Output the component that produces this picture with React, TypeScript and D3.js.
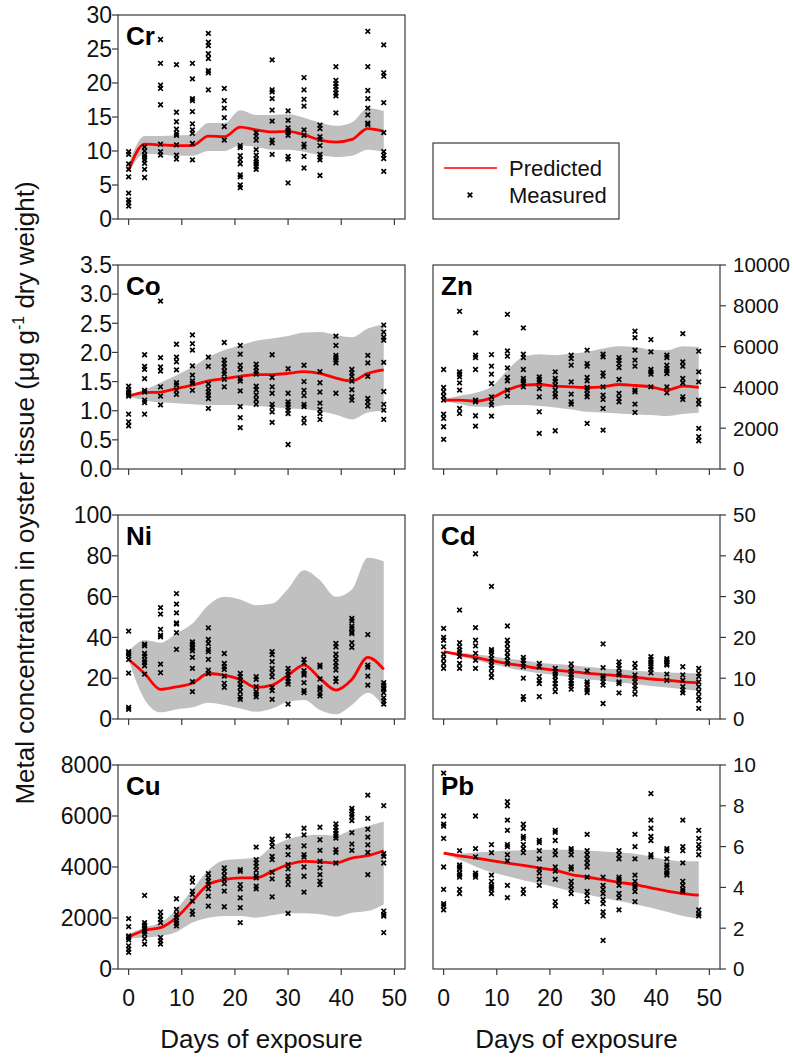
import React from 'react';
import * as d3 from 'd3';

const days = [0, 3, 6, 9, 12, 15, 18, 21, 24, 27, 30, 33, 36, 39, 42, 45, 48];
const xTicks = [0, 10, 20, 30, 40, 50];

// Cr
const crObs = [
  [9.9, 9.5, 8.1, 7.3, 6.2, 3.8, 2.8, 2.4, 1.9],
  [10.6, 10.0, 9.4, 9.1, 8.7, 8.2, 7.3, 6.1],
  [26.4, 22.9, 19.7, 19.2, 16.8, 11.0, 9.9, 9.4],
  [22.7, 15.7, 14.3, 13.2, 12.6, 12.3, 10.9, 9.4, 8.8],
  [22.9, 20.6, 17.7, 17.4, 15.8, 14.0, 13.1, 12.6, 11.1, 8.7],
  [27.3, 26.0, 25.5, 24.3, 23.6, 21.8, 21.5, 19.0],
  [19.2, 17.4, 16.3, 14.9, 13.6, 11.6],
  [10.8, 10.5, 9.3, 8.7, 8.1, 6.5, 6.2, 5.0, 4.6],
  [12.7, 12.2, 11.6, 10.2, 9.4, 8.8, 8.4, 8.1, 7.7, 7.3],
  [23.4, 19.0, 18.7, 17.7, 16.0, 14.4, 11.6, 11.2, 9.5],
  [15.9, 14.5, 13.4, 13.0, 12.7, 12.3, 9.2, 8.8, 5.3],
  [20.8, 19.0, 17.6, 16.6, 13.1, 12.3, 11.0, 10.6, 9.2, 7.5],
  [13.8, 13.3, 12.1, 11.7, 10.8, 9.5, 9.1, 8.7, 6.4],
  [22.4, 20.4, 19.9, 19.5, 19.0, 18.5, 18.1, 15.6],
  [],
  [27.6, 22.4, 18.9, 17.7, 16.3, 15.3, 14.1, 13.9],
  [25.6, 21.5, 21.0, 17.1, 12.7, 9.9, 9.4, 8.9, 7.0],
];
const crPred = [7.2, 11.0, 10.9, 10.8, 10.8, 12.2, 12.1, 13.5, 13.1, 12.8, 12.9, 12.4, 11.6, 11.3, 11.7, 13.3, 12.9];
const crHigh = [8.0, 12.2, 12.2, 12.3, 12.4, 14.1, 14.1, 16.0, 15.3, 15.3, 15.4, 14.9, 14.2, 13.7, 14.2, 16.3, 15.9];
const crLow = [6.8, 9.6, 9.5, 9.3, 9.3, 10.0, 10.0, 10.8, 10.6, 10.2, 10.2, 9.9, 9.4, 9.1, 9.3, 10.2, 9.9];
const crTicks = [0, 5, 10, 15, 20, 25, 30];

// Co
const coObs = [
  [1.42, 1.36, 1.32, 1.28, 1.25, 0.94, 0.81, 0.74],
  [1.96, 1.76, 1.71, 1.55, 1.35, 1.32, 1.18, 1.14, 0.94],
  [2.88, 1.91, 1.75, 1.68, 1.41, 1.25, 1.1],
  [2.14, 1.92, 1.84, 1.7, 1.48, 1.44, 1.35, 1.28],
  [2.3, 2.15, 2.04, 1.77, 1.61, 1.51, 1.47, 1.35],
  [1.92, 1.76, 1.46, 1.38, 1.32, 1.27, 1.21, 1.04],
  [2.17, 1.87, 1.81, 1.75, 1.68, 1.63, 1.54, 1.41],
  [2.12, 1.97, 1.78, 1.71, 1.55, 1.51, 1.34, 1.07, 0.88, 0.71],
  [1.8, 1.74, 1.68, 1.63, 1.42, 1.36, 1.27, 1.19, 1.11],
  [1.96, 1.57, 1.41, 1.3, 1.11, 1.06, 0.98, 0.8],
  [1.72, 1.3, 1.15, 1.11, 1.06, 1.01, 0.95, 0.42],
  [1.78, 1.5, 1.35, 1.26, 1.11, 1.07, 0.87, 0.79],
  [1.67, 1.48, 1.32, 1.13, 1.02, 0.95, 0.85],
  [2.28, 2.12, 1.95, 1.91, 1.87, 1.82, 1.3],
  [1.71, 1.65, 1.59, 1.51, 1.36, 1.24, 1.18],
  [1.95, 1.82, 1.59, 1.21, 1.15, 1.08],
  [2.47, 2.35, 2.26, 2.21, 1.83, 1.33, 1.11, 1.01, 0.85],
];
const coPred = [1.25, 1.31, 1.32, 1.38, 1.44, 1.51, 1.55, 1.59, 1.62, 1.62, 1.64, 1.67, 1.64, 1.56, 1.51, 1.64, 1.7];
const coHigh = [1.28, 1.36, 1.48, 1.61, 1.75, 1.92, 2.04, 2.12, 2.2, 2.24, 2.28, 2.34, 2.35, 2.3, 2.26, 2.41, 2.48];
const coLow = [1.24, 1.18, 1.14, 1.13, 1.11, 1.1, 1.1, 1.1, 1.08, 1.06, 1.04, 1.03, 0.99, 0.93, 0.85, 0.97, 1.0];
const coTicks = [0, 0.5, 1, 1.5, 2, 2.5, 3, 3.5];

// Zn
const znObs = [
  [4877, 3996, 3784, 3572, 3376, 2691, 2479, 2071, 1452],
  [7731, 4763, 4648, 4518, 4224, 3866, 2969, 2724],
  [6671, 5578, 5464, 4877, 3376, 3295, 2610, 2104],
  [5610, 5040, 4648, 4192, 3540, 3295, 3132, 2593],
  [7584, 5790, 5529, 4958, 4485, 4322, 3866, 3572],
  [6915, 5627, 5464, 4877, 4436, 4322, 4192, 4028],
  [4518, 4387, 4273, 3947, 3540, 2805, 1745],
  [4763, 4436, 4306, 4110, 3866, 3670, 3540, 1876],
  [5578, 5415, 5089, 4273, 3670, 3295, 3181],
  [5823, 5170, 5040, 4485, 4322, 3996, 3866, 3670, 3540, 2234],
  [5627, 5497, 4714, 4551, 4028, 3621, 3409, 2969, 1908],
  [5464, 5333, 5170, 4974, 4387, 3703, 3458, 3295],
  [6752, 6442, 5823, 5333, 5040, 3866, 3784, 3181, 2773],
  [6345, 5741, 4877, 4763, 4648, 4028],
  [5578, 5464, 5089, 4926, 4812, 4681, 4028, 3735],
  [6638, 5252, 5040, 4436, 4224, 3540, 3409],
  [5774, 4763, 4273, 3376, 3181, 1990, 1582, 1386],
];
const znPred = [3376, 3376, 3327, 3490, 3866, 4110, 4143, 4061, 4028, 3996, 4028, 4143, 4094, 4028, 3866, 4061, 3996];
const znHigh = [3409, 3588, 3735, 4028, 4844, 5497, 5627, 5578, 5660, 5741, 5904, 6019, 5986, 5855, 5823, 6019, 5986];
const znLow = [3344, 3181, 3050, 3050, 3132, 3132, 3083, 3017, 2919, 2805, 2773, 2724, 2675, 2642, 2593, 2691, 2756];
const znTicks = [0, 2000, 4000, 6000, 8000, 10000];

// Ni
const niObs = [
  [43.1, 33.0, 32.1, 31.0, 29.2, 22.5, 5.7, 4.7],
  [36.7, 35.9, 32.1, 30.8, 28.9, 27.7, 26.1, 22.0],
  [54.6, 51.4, 43.9, 41.1, 40.3, 26.9, 22.7],
  [61.5, 56.3, 52.0, 47.1, 46.5, 42.3, 34.1],
  [37.8, 36.7, 35.4, 34.6, 33.4, 30.2, 24.8, 18.3, 13.4],
  [44.7, 39.0, 37.0, 34.1, 33.0, 29.2, 24.0, 22.3],
  [32.1, 27.2, 25.6, 24.3, 21.0, 17.5, 15.5],
  [22.3, 20.7, 19.1, 17.1, 15.5, 13.4, 10.9, 9.6],
  [20.7, 19.4, 15.8, 13.4, 12.2, 10.9],
  [33.0, 31.6, 28.1, 24.8, 22.7, 20.7, 15.5, 13.9, 9.6],
  [24.8, 23.2, 21.5, 19.9, 18.3, 17.1, 7.3],
  [29.2, 27.6, 23.7, 22.3, 21.5, 17.8, 13.9, 12.9],
  [26.4, 25.6, 19.6, 15.5, 14.5, 12.6, 11.3],
  [37.0, 35.4, 31.8, 29.7, 27.7, 25.9, 24.0, 19.9, 18.3],
  [49.3, 48.1, 45.5, 44.4, 42.7, 41.9, 37.4, 35.1],
  [41.4, 26.4, 25.3, 21.0, 16.6],
  [17.8, 16.6, 15.3, 14.5, 12.9, 10.4, 8.8, 7.3],
];
const niPred = [29.2, 22.3, 14.5, 15.8, 17.5, 22.3, 21.5, 19.4, 15.5, 16.6, 21.5, 26.4, 19.9, 14.2, 19.4, 30.2, 24.3];
const niHigh = [33.0, 38.7, 37.4, 41.9, 46.8, 55.8, 59.9, 58.6, 55.8, 56.6, 63.9, 72.9, 68.0, 59.9, 63.5, 79.0, 77.3];
const niLow = [28.9, 9.6, 3.3, 4.7, 5.7, 8.0, 6.9, 5.2, 3.6, 5.2, 8.5, 9.3, 4.4, 2.3, 6.9, 12.9, 6.0];
const niTicks = [0, 20, 40, 60, 80, 100];

// Cd
const cdObs = [
  [22.2, 20.0, 19.3, 17.7, 15.9, 14.8, 13.6, 12.4],
  [26.7, 18.7, 17.7, 16.9, 16.2, 15.3, 13.6, 12.4],
  [40.5, 22.4, 19.3, 17.9, 16.1, 14.4, 12.4],
  [32.5, 17.0, 16.5, 15.7, 14.8, 14.0, 13.2, 12.4, 11.2, 10.2],
  [22.8, 19.3, 18.4, 17.3, 16.2, 15.3, 14.3, 13.5],
  [15.1, 14.4, 13.6, 12.8, 10.0, 5.5, 4.8],
  [13.6, 12.8, 10.4, 9.4, 8.7, 5.5],
  [12.4, 11.6, 11.0, 10.4, 9.5, 8.7, 7.9, 6.7],
  [13.5, 12.4, 11.6, 10.8, 10.2, 9.4, 8.7, 8.1, 7.3],
  [11.8, 9.1, 8.6, 7.7, 7.1, 6.5],
  [18.4, 12.6, 10.5, 10.0, 9.1, 8.3, 3.8],
  [14.0, 13.2, 12.4, 11.3, 10.8, 9.1, 8.7, 6.4],
  [13.6, 12.6, 10.8, 10.0, 9.1, 8.1, 7.3, 6.1],
  [15.3, 14.6, 14.0, 13.5, 12.8, 12.2, 11.3],
  [14.8, 14.4, 14.0, 13.6, 13.2, 11.0, 9.5],
  [12.8, 10.8, 9.5, 7.9, 7.1, 6.4],
  [12.4, 11.2, 10.4, 9.1, 7.9, 6.7, 5.5, 4.6, 2.6],
];
const cdPred = [16.5, 15.8, 15.1, 14.3, 13.6, 13.0, 12.4, 12.0, 11.6, 11.2, 10.9, 10.6, 10.2, 9.8, 9.5, 9.1, 8.9];
const cdHigh = [16.5, 16.2, 15.9, 15.4, 14.8, 14.4, 13.8, 13.5, 13.2, 12.8, 12.4, 12.2, 11.8, 11.6, 11.4, 11.3, 11.2];
const cdLow = [16.4, 15.4, 14.4, 13.5, 12.6, 11.8, 11.2, 10.8, 10.2, 9.7, 9.4, 8.9, 8.6, 8.1, 7.7, 7.3, 6.9];
const cdTicks = [0, 10, 20, 30, 40, 50];

// Cu
const cuObs = [
  [1974, 1663, 1299, 1234, 1143, 909, 779, 650],
  [2884, 1819, 1715, 1624, 1559, 1455, 1364, 1195, 974],
  [2234, 2078, 1949, 1819, 1234, 1104, 974],
  [2754, 2338, 2143, 2013, 1884, 1793, 1689],
  [3572, 3403, 3053, 2923, 2663, 2273, 2143],
  [3741, 3572, 3442, 3312, 3143, 2858, 2468],
  [3962, 3832, 3663, 3507, 3351, 3053, 2442],
  [3897, 3832, 3312, 3143, 2793, 2403, 1819],
  [4780, 4287, 4157, 4027, 3871, 3663, 3572, 3247, 3143],
  [5092, 4962, 4806, 4417, 4287, 3793, 3533, 2832],
  [5222, 4780, 4482, 4092, 3923, 3637, 3507, 3312, 2182],
  [5520, 5261, 4832, 4482, 4391, 4001, 3637, 3014],
  [5559, 5066, 4650, 4222, 3962, 3702, 3442, 3312],
  [5689, 5559, 5430, 5326, 5222, 5131, 4676, 4572, 4157],
  [6300, 6200, 6070, 5970, 5820, 5350, 4900, 4650],
  [6820, 5910, 5482, 5170, 4871, 4572, 3702],
  [6404, 4520, 4417, 4157, 2273, 2143, 2078, 1429],
];
const cuPred = [1260, 1520, 1620, 2013, 2663, 3312, 3507, 3572, 3572, 3832, 4092, 4222, 4196, 4157, 4352, 4443, 4637];
const cuHigh = [1364, 1624, 1819, 2338, 3118, 3871, 4261, 4313, 4352, 4806, 5092, 5222, 5261, 5222, 5456, 5612, 5780];
const cuLow = [1195, 1234, 1299, 1455, 1819, 2013, 2078, 2078, 2013, 2104, 2182, 2182, 2143, 2052, 2208, 2273, 2533];
const cuTicks = [0, 2000, 4000, 6000, 8000];

// Pb
const pbObs = [
  [9.6, 7.5, 7.1, 7.0, 6.4, 5.0, 3.9, 3.2, 3.1, 2.9],
  [5.8, 5.1, 5.0, 4.9, 4.7, 4.6, 4.5, 3.9, 3.7],
  [7.5, 5.9, 5.5, 4.7, 4.6, 4.5],
  [6.1, 5.7, 4.6, 4.3, 4.1, 4.0, 3.9, 3.7],
  [8.2, 8.0, 7.3, 6.8, 6.1, 6.0, 5.6, 5.3, 4.1, 3.5],
  [7.1, 6.9, 6.5, 6.4, 6.1, 5.9, 5.7, 3.9, 3.7],
  [6.3, 6.2, 5.8, 5.4, 4.9, 4.7, 4.4, 4.1],
  [6.8, 6.7, 6.3, 5.8, 5.6, 5.0, 4.8, 4.4, 3.3, 3.1],
  [5.9, 5.8, 5.6, 5.0, 4.9, 4.3, 4.1, 3.9, 3.7],
  [6.6, 5.8, 5.6, 5.4, 5.2, 5.0, 4.5, 3.8, 3.6, 3.3],
  [4.5, 4.1, 3.9, 3.7, 3.4, 3.2, 2.8, 2.6, 1.4],
  [5.8, 5.6, 5.4, 4.5, 4.4, 4.3, 4.1, 3.7, 3.5, 2.9],
  [6.6, 6.0, 5.4, 4.6, 4.3, 4.1, 4.0, 3.8, 3.3],
  [8.6, 7.3, 6.9, 6.5, 6.3, 5.6, 5.5],
  [5.9, 5.8, 5.4, 5.1, 5.0, 4.8, 4.7, 4.6],
  [7.3, 6.0, 5.8, 5.2, 4.3, 4.1, 3.9, 3.8],
  [6.8, 6.4, 6.1, 5.9, 5.6, 2.9, 2.7, 2.6],
];
const pbPred = [5.68, 5.55, 5.44, 5.31, 5.19, 5.08, 4.95, 4.84, 4.63, 4.51, 4.38, 4.25, 4.14, 3.98, 3.82, 3.7, 3.62];
const pbHigh = [5.68, 5.65, 5.71, 5.76, 5.81, 5.81, 5.84, 5.84, 5.84, 5.81, 5.76, 5.71, 5.65, 5.52, 5.36, 5.28, 5.28];
const pbLow = [5.65, 5.36, 5.03, 4.74, 4.55, 4.35, 4.19, 4.01, 3.81, 3.65, 3.49, 3.33, 3.17, 3.0, 2.81, 2.6, 2.47];
const pbTicks = [0, 2, 4, 6, 8, 10];

const panels = [
  { name: 'Cr', col: 0, row: 0, obs: crObs, pred: crPred, low: crLow, high: crHigh, ticks: crTicks, fmt: d3.format('d') },
  { name: 'Co', col: 0, row: 1, obs: coObs, pred: coPred, low: coLow, high: coHigh, ticks: coTicks, fmt: d3.format('.1f') },
  { name: 'Zn', col: 1, row: 1, obs: znObs, pred: znPred, low: znLow, high: znHigh, ticks: znTicks, fmt: d3.format('d') },
  { name: 'Ni', col: 0, row: 2, obs: niObs, pred: niPred, low: niLow, high: niHigh, ticks: niTicks, fmt: d3.format('d') },
  { name: 'Cd', col: 1, row: 2, obs: cdObs, pred: cdPred, low: cdLow, high: cdHigh, ticks: cdTicks, fmt: d3.format('d') },
  { name: 'Cu', col: 0, row: 3, obs: cuObs, pred: cuPred, low: cuLow, high: cuHigh, ticks: cuTicks, fmt: d3.format('d') },
  { name: 'Pb', col: 1, row: 3, obs: pbObs, pred: pbPred, low: pbLow, high: pbHigh, ticks: pbTicks, fmt: d3.format('d') },
];

const FONT = 'Arial, "Liberation Sans", sans-serif';
const W = 287;
const H = 204;
const colX = [118, 433];
const rowY = [15, 265, 515, 765];
const AXIS = '#3a3a3a';

function Cross({ cx, cy }: { cx: number; cy: number }) {
  const s = 2.3;
  return (
    <path
      d={`M${cx - s},${cy - s}L${cx + s},${cy + s}M${cx - s},${cy + s}L${cx + s},${cy - s}`}
      stroke="#000"
      strokeWidth={1.7}
      fill="none"
    />
  );
}

function Panel({ p }: { p: any }) {
  const x0 = colX[p.col];
  const y0 = rowY[p.row];
  const x = d3.scaleLinear().domain([-2, 52]).range([x0, x0 + W]);
  const y = d3.scaleLinear().domain([0, p.ticks[p.ticks.length - 1]]).range([y0 + H, y0]);
  const band = d3
    .area<number>()
    .x((d, i) => x(days[i]))
    .y0((d, i) => y(p.low[i]))
    .y1((d, i) => y(p.high[i]))
    .curve(d3.curveMonotoneX);
  const line = d3
    .line<number>()
    .x((d, i) => x(days[i]))
    .y((d) => y(d))
    .curve(d3.curveMonotoneX);
  const right = p.col === 1;
  const ax = right ? x0 + W : x0;
  const clipId = `clip-${p.name}`;
  const bottom = p.row === 3;

  return (
    <g fontFamily={FONT}>
      <defs>
        <clipPath id={clipId}>
          <rect x={x0} y={y0} width={W} height={H} />
        </clipPath>
      </defs>
      <g clipPath={`url(#${clipId})`}>
        <path d={band(p.pred) || ''} fill="#c0c0c0" />
        <path d={line(p.pred) || ''} fill="none" stroke="#ff0000" strokeWidth={2.8} />
        {p.obs.map((vals: number[], i: number) =>
          vals.map((v, j) => <Cross key={`${i}-${j}`} cx={x(days[i])} cy={y(v)} />)
        )}
      </g>
      <rect x={x0} y={y0} width={W} height={H} fill="none" stroke={AXIS} strokeWidth={1.2} />
      {p.ticks.map((t: number) => (
        <g key={t}>
          <line x1={ax} x2={right ? ax + 6 : ax - 6} y1={y(t)} y2={y(t)} stroke={AXIS} strokeWidth={1.2} />
          <text
            x={right ? ax + 13 : ax - 6}
            y={y(t)}
            dy="0.36em"
            textAnchor={right ? 'start' : 'end'}
            fontSize={right ? 20.5 : 23}
            fill="#111"
          >
            {p.fmt(t)}
          </text>
        </g>
      ))}
      {xTicks.map((t) => (
        <g key={t}>
          <line x1={x(t)} x2={x(t)} y1={y0 + H} y2={y0 + H + 6} stroke={AXIS} strokeWidth={1.2} />
          {bottom && (
            <text x={x(t)} y={y0 + H + 37} textAnchor="middle" fontSize={23} fill="#111">
              {t}
            </text>
          )}
        </g>
      ))}
      <text x={x0 + 8} y={y0 + 30} fontSize={26} fontWeight="bold" fill="#000">
        {p.name}
      </text>
      {bottom && (
        <text x={x(25)} y={y0 + H + 79} textAnchor="middle" fontSize={26} fill="#111">
          Days of exposure
        </text>
      )}
    </g>
  );
}

function Legend() {
  return (
    <g fontFamily={FONT}>
      <rect x={433} y={143} width={186} height={76} fill="#fff" stroke={AXIS} strokeWidth={1.2} />
      <line x1={444} x2={497} y1={168} y2={168} stroke="#ff0000" strokeWidth={1.6} />
      <text x={509} y={176} fontSize={22} fill="#111">Predicted</text>
      <Cross cx={470} cy={195} />
      <text x={509} y={203} fontSize={22} fill="#111">Measured</text>
    </g>
  );
}

export default function App() {
  return (
    <svg width={793} height={1057} style={{ position: 'absolute', left: 0, top: 0, background: '#fff' }}>
      {panels.map((p) => (
        <Panel key={p.name} p={p} />
      ))}
      <Legend />
      <text
        transform="translate(34,493) rotate(-90)"
        textAnchor="middle"
        fontFamily={FONT}
        fontSize={26}
        fill="#111"
      >
        Metal concentration in oyster tissue (µg g
        <tspan dy={-10} fontSize={16}>-1</tspan>
        <tspan dy={10}> dry weight)</tspan>
      </text>
    </svg>
  );
}
